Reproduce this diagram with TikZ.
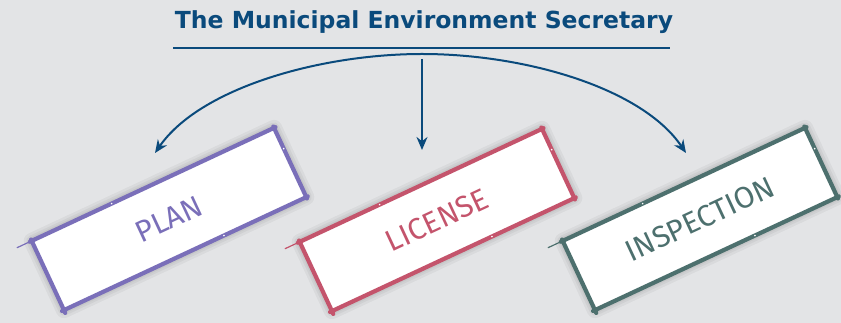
\documentclass[tikz,border=0pt]{standalone}
\usepackage{fontspec}
\usetikzlibrary{calc,arrows.meta}

\newfontfamily\headfont{DejaVu Sans}
\newfontfamily\stagefont{Fira Sans}

\definecolor{paper}{RGB}{227,228,230}
\definecolor{secblue}{RGB}{10,74,124}
\definecolor{planpurple}{RGB}{122,111,185}
\definecolor{licensered}{RGB}{196,84,108}
\definecolor{inspteal}{RGB}{77,112,110}

\pgfdeclarelayer{paperlayer}
\pgfdeclarelayer{shade}
\pgfsetlayers{paperlayer,shade,main}

\tikzset{
  tip/.tip={Stealth[length=13pt,width=11pt]},
  flow/.style={secblue, line width=2pt, -tip},
  stage/.style={rectangle, fill=white, inner sep=0pt, rotate=25,
    minimum width=267pt, minimum height=76pt,
    font=\stagefont\fontsize{30}{30}\selectfont},
  rim/.style={line width=4.2pt, line cap=round},
  tail/.style={line width=1.2pt, line cap=round},
}

% soft shadow under a stage box
\newcommand\stageshade[1]{%
  \begin{pgfonlayer}{shade}
    \begin{scope}[shift={(4,-5)}, black, line join=round]
      \fill[opacity=0.06] (#1.north west) -- (#1.north east) -- (#1.south east) -- (#1.south west) -- cycle;
      \foreach \w in {16,11,7,3}
        \draw[opacity=0.045, line width=\w pt] (#1.north west) -- (#1.north east) -- (#1.south east) -- (#1.south west) -- cycle;
    \end{scope}
  \end{pgfonlayer}
}

% hand drawn border round a stage box: #1 node, #2 colour
\newcommand\sketchrim[2]{%
  \draw[rim,#2] ($(#1.north west)!-0.008!(#1.north east)$) -- ($(#1.north east)!-0.006!(#1.north west)$);
  \draw[rim,#2] ($(#1.north east)!-0.02!(#1.south east)$) -- ($(#1.south east)!-0.02!(#1.north east)$);
  \draw[rim,#2] ($(#1.south east)!-0.006!(#1.south west)$) -- ($(#1.south west)!-0.008!(#1.south east)$);
  \draw[rim,#2] ($(#1.south west)!-0.04!(#1.north west)$) -- ($(#1.north west)!-0.02!(#1.south west)$);
  \draw[tail,#2] (#1.north west) -- ($(#1.north west)!-0.06!(#1.north east)$);
  % small breaks in the stroke
  \fill[white] ($(#1.north west)!0.33!(#1.north east)$) circle (0.9pt);
  \fill[white] ($(#1.south west)!0.66!(#1.south east)$) circle (0.9pt);
  \fill[white] ($(#1.north east)!0.3!(#1.south east)$) circle (0.9pt);
}

\begin{document}
\begin{tikzpicture}[x=1pt, y=1pt]
  \begin{pgfonlayer}{paperlayer}
    \fill[paper] (0,0) rectangle (841,323);
  \end{pgfonlayer}
  \useasboundingbox (0,0) rectangle (841,323);

  % heading
  \node[anchor=base, secblue, font=\headfont\bfseries\fontsize{23.5}{24}\selectfont] (secretary) at (424,294)
    {The Municipal Environment Secretary};
  \draw[secblue, line width=2.2pt] (173,275) -- (670,275);

  % the three tasks
  \node[stage, text=planpurple] (plan) at (169,104) {PLAN};
  \node[stage, text=licensered] (license) at (437,103) {LICENSE};
  \node[stage, text=inspteal] (inspection) at (700,104) {INSPECTION};
  \foreach \n/\c in {plan/planpurple, license/licensered, inspection/inspteal} {
    \stageshade{\n}
    \sketchrim{\n}{\c}
  }

  % arrows down to the tasks
  \coordinate (top) at (422,269);
  \coordinate (planend) at (155,170);
  \coordinate (inspend) at (686,170);
  \draw[flow, tip-tip] (planend) .. controls (200,235) and (320,269) .. (top)
    .. controls (525,269) and (642,235) .. (inspend);
  \draw[flow] (422,264) -- (422,173);
\end{tikzpicture}
\end{document}
